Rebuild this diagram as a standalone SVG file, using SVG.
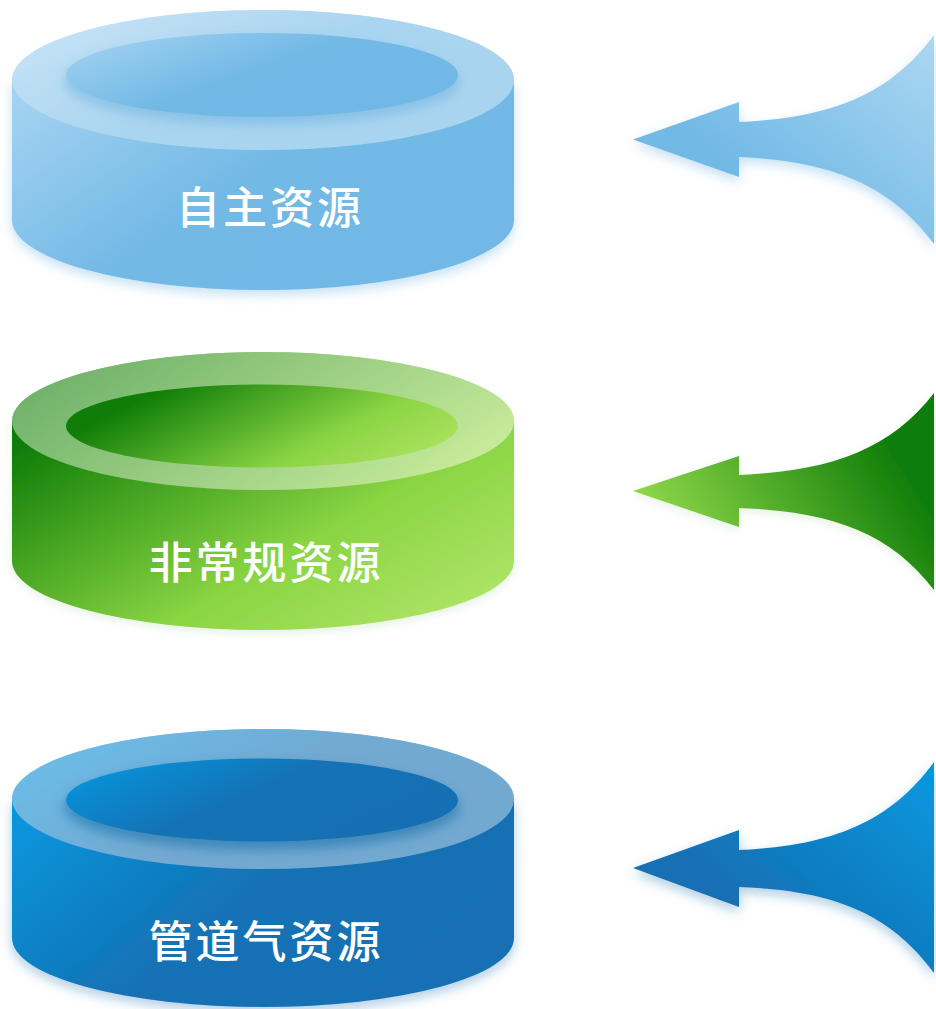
<svg xmlns="http://www.w3.org/2000/svg" width="936" height="1009" viewBox="0 0 936 1009">
  <defs>
    <style>
      .label { font-family: "Noto Sans CJK SC", "Noto Sans", sans-serif; font-size: 44px; font-weight: 500; fill: #ffffff; text-anchor: middle; letter-spacing: 3px; }
      .gloss { fill: #ffffff; fill-opacity: 0.4; }
    </style>
    <!-- cylinder 1: light blue -->
    <linearGradient id="b1" x1="0" y1="0" x2="1" y2="0.6">
      <stop offset="0" stop-color="#a8d4f2"/>
      <stop offset="0.55" stop-color="#72b9e6"/>
      <stop offset="1" stop-color="#71b8e6"/>
    </linearGradient>
    <!-- cylinder 2: green -->
    <linearGradient id="g2" x1="0" y1="0.15" x2="1" y2="0.85">
      <stop offset="0" stop-color="#0f7d08"/>
      <stop offset="0.6" stop-color="#8ad543"/>
      <stop offset="1" stop-color="#b0e568"/>
    </linearGradient>
    <linearGradient id="g2top" x1="0" y1="0.3" x2="1" y2="0.7">
      <stop offset="0" stop-color="#0f7d08"/>
      <stop offset="1" stop-color="#a6e05a"/>
    </linearGradient>
    <linearGradient id="g2in" x1="0" y1="0.3" x2="1" y2="0.7">
      <stop offset="0" stop-color="#0f7d08"/>
      <stop offset="0.12" stop-color="#0f7d08"/>
      <stop offset="0.7" stop-color="#8bd544"/>
      <stop offset="1" stop-color="#abe25e"/>
    </linearGradient>
    <!-- cylinder 3: deep blue -->
    <linearGradient id="d3" x1="0" y1="0" x2="1" y2="0.5">
      <stop offset="0" stop-color="#0599e1"/>
      <stop offset="0.55" stop-color="#1472b5"/>
      <stop offset="1" stop-color="#1570b3"/>
    </linearGradient>
    <!-- arrows -->
    <linearGradient id="a1" x1="0.3" y1="0.6" x2="1" y2="0">
      <stop offset="0" stop-color="#72b9e6"/>
      <stop offset="1" stop-color="#acd7f2"/>
    </linearGradient>
    <linearGradient id="a2" x1="0" y1="0.6" x2="0.85" y2="0.25">
      <stop offset="0" stop-color="#96dc4d"/>
      <stop offset="1" stop-color="#0f7d08"/>
    </linearGradient>
    <linearGradient id="a3" x1="0.3" y1="0.6" x2="1" y2="0">
      <stop offset="0" stop-color="#1570b3"/>
      <stop offset="1" stop-color="#0599e1"/>
    </linearGradient>
    <filter id="shLight" x="-10%" y="-10%" width="120%" height="130%">
      <feDropShadow dx="0" dy="5" stdDeviation="6" flood-color="#5aa9dc" flood-opacity="0.35"/>
    </filter>
    <filter id="shDeep" x="-10%" y="-10%" width="120%" height="130%">
      <feDropShadow dx="0" dy="5" stdDeviation="6" flood-color="#1a6fb0" flood-opacity="0.35"/>
    </filter>
    <filter id="shGreen" x="-10%" y="-10%" width="120%" height="130%">
      <feDropShadow dx="0" dy="3" stdDeviation="4" flood-color="#3a8a20" flood-opacity="0.12"/>
    </filter>
    <filter id="blur6" x="-20%" y="-50%" width="140%" height="200%">
      <feGaussianBlur stdDeviation="6"/>
    </filter>
    <clipPath id="top1"><ellipse cx="263" cy="80" rx="251" ry="70"/></clipPath>
    <clipPath id="top3"><ellipse cx="263" cy="799" rx="251" ry="70"/></clipPath>
  </defs>

  <g id="node-zizhu">
    <path d="M12,80 L12,220 A251,70 0 0 0 514,220 L514,80 Z" fill="url(#b1)" filter="url(#shLight)"/>
    <ellipse cx="263" cy="80" rx="251" ry="70" fill="url(#b1)"/>
    <ellipse class="gloss" cx="263" cy="80" rx="251" ry="70"/>
    <g clip-path="url(#top1)">
      <ellipse cx="262" cy="82" rx="198" ry="43" fill="#5aa6d8" fill-opacity="0.4" filter="url(#blur6)"/>
    </g>
    <ellipse cx="262" cy="75" rx="196" ry="42" fill="url(#b1)"/>
    <text class="label" x="270" y="224">自主资源</text>
  </g>

  <g id="node-feichanggui">
    <path d="M12,421 L12,561 A251,69 0 0 0 514,561 L514,421 Z" fill="url(#g2)" filter="url(#shGreen)"/>
    <ellipse cx="263" cy="421" rx="251" ry="69" fill="url(#g2top)"/>
    <ellipse class="gloss" cx="263" cy="421" rx="251" ry="69"/>
    <ellipse cx="262" cy="426" rx="196" ry="41.5" fill="url(#g2in)"/>
    <text class="label" x="266" y="579">非常规资源</text>
  </g>

  <g id="node-guandaoqi">
    <path d="M12,799 L12,938 A251,69 0 0 0 514,938 L514,799 Z" fill="url(#d3)" filter="url(#shDeep)"/>
    <ellipse cx="263" cy="799" rx="251" ry="70" fill="url(#d3)"/>
    <ellipse class="gloss" cx="263" cy="799" rx="251" ry="70"/>
    <g clip-path="url(#top3)">
      <ellipse cx="262" cy="807" rx="198" ry="43" fill="#0d5f9c" fill-opacity="0.45" filter="url(#blur6)"/>
    </g>
    <ellipse cx="262" cy="800" rx="196" ry="41.5" fill="url(#d3)"/>
    <text class="label" x="266" y="958">管道气资源</text>
  </g>

  <g id="connectors">
    <path d="M633,139.5 L739,102 L739,122 C830,118 890,95 934,35 L934,244 C890,184 830,161 739,157 L739,177 Z" fill="url(#a1)" filter="url(#shLight)"/>
    <path d="M633,491 L739,456 L739,475 C830,471 890,450 934,393 L934,590 C890,532 830,511 739,508 L739,527 Z" fill="url(#a2)" filter="url(#shGreen)"/>
    <path d="M633,868 L739,830 L739,850 C830,846 890,823 934,762 L934,973 C890,912 830,890 739,887 L739,907 Z" fill="url(#a3)" filter="url(#shDeep)"/>
  </g>
</svg>
